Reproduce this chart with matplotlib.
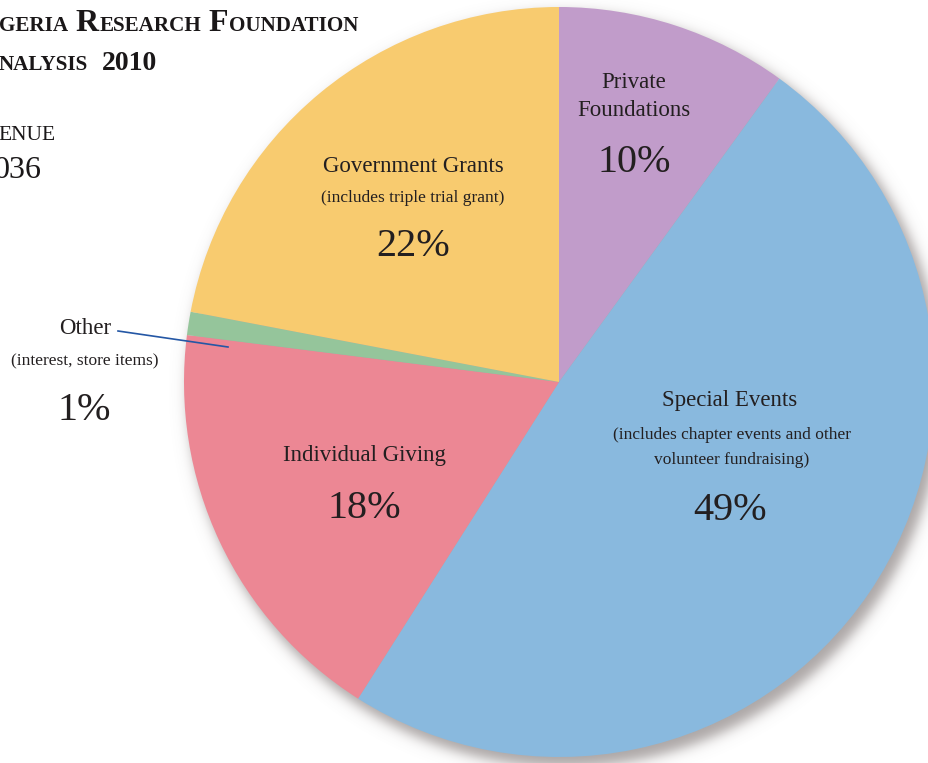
import numpy as np
import matplotlib
matplotlib.use("Agg")
import matplotlib.pyplot as plt

# Revenue split, clockwise from 12 o'clock
categories = ["Private Foundations", "Special Events", "Individual Giving",
              "Other", "Government Grants"]
shares = [10, 49, 18, 1, 22]
notes = ["", "(includes chapter events and other\nvolunteer fundraising)", "",
         "(interest, store items)", "(includes triple trial grant)"]
colors = ["#c19cca", "#89b9de", "#ec8794", "#95c59b", "#f8cb6f"]

W, H = 929, 763
TXT = "#231f20"
SERIF = "Liberation Serif"

fig = plt.figure(figsize=(W / 100, H / 100), dpi=100)
ax = fig.add_axes([0, 0, 1, 1])

def Y(y):
    # pixel rows are counted from the top
    return H - y

cx, cy, R = 559, Y(382), 375

# soft drop shadow down and to the right
gx, gy = np.meshgrid(np.arange(W) + 0.5, np.arange(H) + 0.5)
d = np.hypot(gx - (cx + 6), (H - gy) - (cy - 8))
alpha = 0.62 / (1 + np.exp((d - (R + 2)) / 3.8))
shadow = np.zeros((H, W, 4))
shadow[..., :3] = np.array([0x78, 0x6f, 0x6e]) / 255
shadow[..., 3] = alpha
ax.imshow(shadow, extent=(0, W, 0, H), origin="upper", zorder=0,
          interpolation="bilinear")

ax.pie(shares, colors=colors, startangle=90, counterclock=False,
       center=(cx, cy), radius=R,
       wedgeprops=dict(linewidth=0, antialiased=True, zorder=2))

ax.set_xlim(0, W)
ax.set_ylim(0, H)
ax.set_aspect("equal")
ax.axis("off")

def label(x, y, s, size, spacing=1.2):
    ax.text(x, Y(y), s, ha="center", va="center", fontsize=size,
            family=SERIF, color=TXT, zorder=5, linespacing=spacing)

LBL, NOTE, PCT = 16.5, 12.5, 29

# Private Foundations
label(634, 82, "Private", LBL)
label(634, 111, "Foundations", LBL)
label(634, 162, f"{shares[0]}%", PCT)

# Special Events
label(730, 401, categories[1], LBL)
label(732, 448, notes[1], NOTE, spacing=1.75)
label(730, 511, f"{shares[1]}%", PCT)

# Individual Giving
label(364, 456, categories[2], LBL)
label(364, 509, f"{shares[2]}%", PCT)

# Other, labelled outside with a leader line
label(85, 329, categories[3], LBL)
label(85, 361, notes[3], NOTE)
label(84, 411, f"{shares[3]}%", PCT)
ax.plot([118, 228], [Y(331), Y(347)], color="#2457a5", lw=1.2, zorder=6)

# Government Grants
label(413, 167, categories[4], LBL)
label(413, 198, notes[4], NOTE)
label(413, 247, f"{shares[4]}%", PCT)

# heading in small caps, built piece by piece
fig.canvas.draw()
renderer = fig.canvas.get_renderer()

def run(x, y, parts, weight, gap=1.0):
    for s, size in parts:
        t = ax.text(x, Y(y), s, fontsize=size, family=SERIF, weight=weight,
                    color="#1a1718", ha="left", va="baseline")
        bb = t.get_window_extent(renderer)
        x += bb.width + gap

SM, BG = 15.2, 23
run(-1, 31, [("GERIA", SM), (" ", SM), ("R", BG), ("ESEARCH", SM), (" ", SM),
             ("F", BG), ("OUNDATION", SM)], "bold", gap=1.0)
run(-1, 70, [("NALYSIS", SM), ("  ", SM), ("2010", 20)], "bold", gap=1.8)
run(-2, 140, [("ENUE", 15.5)], "normal")
run(-6, 178, [("036", 23)], "normal")

fig.savefig("out.png", dpi=100)
